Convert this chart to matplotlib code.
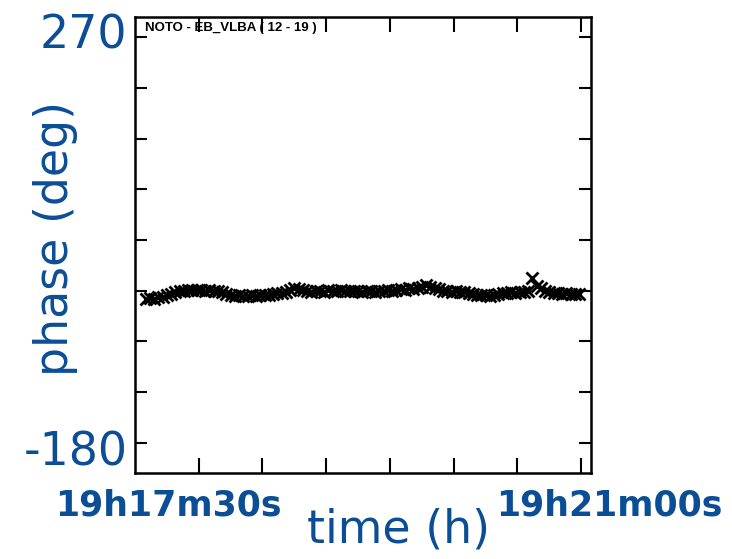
import matplotlib

matplotlib.use("Agg")
import matplotlib.pyplot as plt

BLUE = "#0b4e96"

# seconds after 19h17m30s
t_sec = list(range(5, 210, 2))
phase = [
    -8, -7.5, -8, -6.5, -6, -4, -3, -1.5, -0.5, 0,
    0.5, 1, 0.5, 1, 0, 0.5, 0, -0.5, -1.5, -3,
    -4, -5, -4.5, -5, -5.5, -4.5, -5, -4.5, -4, -4.5,
    -3.5, -2, -2.5, -1, 1, 3, 1.5, 0.5, -0.5, -1,
    -0.5, 0, -1, 0.5, -0.5, 0, 1, 0, -0.5, 0,
    -0.5, -1, 0, -0.5, -1, -0.5, 0, 0.5, 0,
    1, 1.5, 1, 2.5, 2, 3, 4, 5.5, 4, 2.5,
    1.5, 0, -0.5, -1, -0.5, -1.5, -1, -2, -3, -4,
    -4.5, -4, -5, -4, -3, -2.5, -2, -1.5, -2, -1.5,
    -1, -0.5, 12, 5, 2.5, 0, -1.5, -2, -2.5, -3,
    -2.5, -3.5, -3, -3,
]
y_ticks = list(range(-150, 251, 50))
x_ticks = list(range(30, 211, 30))

fig = plt.figure(figsize=(7.32, 5.59), dpi=100)
ax = fig.add_axes([135 / 732, 86 / 559, 456 / 732, 456 / 559])
ax.plot(t_sec, phase, "x", color="black", markersize=8, markeredgewidth=2)

ax.set_xlim(0, 214.6)
ax.set_ylim(-180, 270)
ax.set_xticks(x_ticks)
ax.set_yticks(y_ticks)
ax.set_xticklabels([])
ax.set_yticklabels([])
ax.tick_params(axis="x", direction="in", length=10.5, width=1.5, top=True, bottom=True)
ax.tick_params(axis="y", direction="in", length=8.5, width=1.5, left=True, right=True)
for s in ax.spines.values():
    s.set_linewidth(1.8)

fig.text(145 / 732, 1 - 28 / 559, "NOTO - EB_VLBA ( 12 - 19 )", fontsize=9.5,
         fontweight="bold", family="Liberation Sans", va="center", ha="left")

big = dict(color=BLUE, fontsize=33, family="DejaVu Sans")
fig.text(127 / 732, 1 - 36 / 559, "270", ha="right", va="center", **big)
fig.text(128 / 732, 1 - 453 / 559, "-180", ha="right", va="center", **big)
fig.text(55 / 732, 1 - 238 / 559, "phase (deg)", rotation=90, ha="center", va="center", **big)
fig.text(398 / 732, 1 - 530 / 559, "time (h)", ha="center", va="center", **big)

lab = dict(color=BLUE, fontsize=25, fontweight="bold", family="DejaVu Sans",
           ha="center", va="center")
fig.text(168 / 732, 1 - 505 / 559, "19h17m30s", **lab)
fig.text(609 / 732, 1 - 505 / 559, "19h21m00s", **lab)

fig.savefig("out.png", dpi=100)
